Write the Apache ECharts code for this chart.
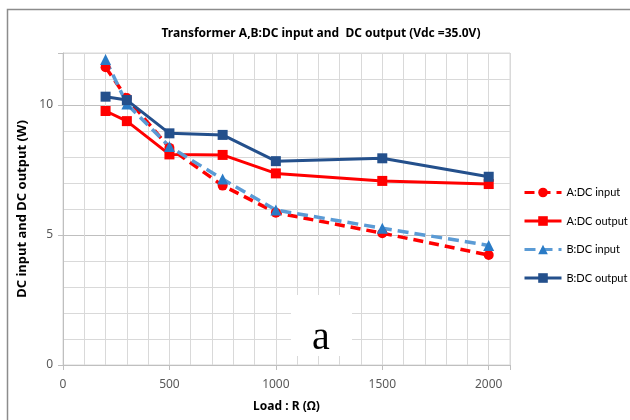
<!DOCTYPE html>
<html>
<head>
<meta charset="utf-8">
<script src="https://cdn.jsdelivr.net/npm/echarts@6/dist/echarts.min.js"></script>
<style>
  html, body { margin: 0; padding: 0; background: #fff; }
  #chart { width: 630px; height: 420px; }
</style>
</head>
<body>
<div id="chart"></div>
<script>
// load resistance (Ω)
const loads = [200, 300, 500, 750, 1000, 1500, 2000]

// power (W)
const aInput = [11.45, 10.27, 8.35, 6.9, 5.86, 5.07, 4.23]
const aOutput = [9.77, 9.38, 8.1, 8.08, 7.37, 7.08, 6.96]
const bInput = [11.75, 10.04, 8.4, 7.15, 5.96, 5.26, 4.6]
const bOutput = [10.32, 10.19, 8.91, 8.85, 7.84, 7.95, 7.24]

const seriesNames = ['A:DC input', 'A:DC output', 'B:DC input', 'B:DC output']

const xTicks = [0, 500, 1000, 1500, 2000]
const yTicks = [0, 5, 10]

const sans = '"Noto Sans", sans-serif'
const legendFont = 'Lato, "Noto Sans", sans-serif'

const pairs = vals => loads.map((x, i) => [x, vals[i]])

const chart = echarts.init(document.getElementById('chart'))

const option = {
  animation: false,
  title: {
    text: 'Transformer A,B:DC input and  DC output (Vdc =35.0V)',
    left: 316,
    textAlign: 'center',
    top: 23,
    textStyle: { fontFamily: sans, fontSize: 12, fontWeight: 'bold', color: '#000' }
  },
  grid: { left: 63, top: 53, width: 447, height: 312, show: true, borderColor: '#d9d9d9', borderWidth: 1 },
  legend: {
    orient: 'vertical',
    left: 518,
    top: 182,
    itemWidth: 37,
    itemHeight: 12,
    itemGap: 17.5,
    data: seriesNames,
    lineStyle: { width: 3 },
    textStyle: { fontFamily: legendFont, fontSize: 11, color: '#000' }
  },
  xAxis: [
    {
      type: 'value', min: 0, max: 2100, interval: 100,
      name: 'Load : R (Ω)', nameLocation: 'middle', nameGap: 36,
      nameTextStyle: { fontFamily: sans, fontSize: 12, fontWeight: 'bold', color: '#000' },
      axisLine: { show: true, lineStyle: { color: '#bfbfbf' } },
      axisTick: { show: false },
      axisLabel: {
        fontFamily: sans, fontSize: 12, color: '#595959', margin: 14,
        formatter: v => (xTicks.includes(v) ? String(v) : '')
      },
      splitLine: { show: true, lineStyle: { color: '#d9d9d9' } }
    },
    {
      // only draws the tick marks at the labelled values
      type: 'value', min: 0, max: 2100, interval: 500, position: 'bottom',
      axisLine: { show: false },
      axisTick: { show: true, length: 5, lineStyle: { color: '#bfbfbf' } },
      axisLabel: { show: false },
      splitLine: { show: false }
    }
  ],
  yAxis: [
    {
      type: 'value', min: 0, max: 12, interval: 1,
      name: 'DC input and DC output (W)', nameLocation: 'middle', nameGap: 32,
      nameTextStyle: { fontFamily: sans, fontSize: 13, fontWeight: 'bold', color: '#000' },
      axisLine: { show: true, lineStyle: { color: '#bfbfbf' } },
      axisTick: { show: false },
      axisLabel: {
        fontFamily: sans, fontSize: 12, color: '#595959', margin: 10,
        formatter: v => (yTicks.includes(v) ? String(v) : '')
      },
      splitLine: {
        show: true,
        lineStyle: { color: ['#bfbfbf', '#d9d9d9', '#d9d9d9', '#d9d9d9', '#d9d9d9'] }
      }
    },
    {
      type: 'value', min: 0, max: 12, interval: 5, position: 'left',
      axisLine: { show: false },
      axisTick: { show: true, length: 5, lineStyle: { color: '#bfbfbf' } },
      axisLabel: { show: false },
      splitLine: { show: false }
    }
  ],
  graphic: [
    {
      type: 'rect', z: 100, silent: true,
      shape: { x: 7.5, y: 9.5, width: 700, height: 500 },
      style: { fill: 'none', stroke: '#8c8c8c', lineWidth: 1.5 }
    },
    {
      type: 'rect', z: 100, silent: true,
      shape: { x: 291, y: 295, width: 61, height: 61 },
      style: { fill: '#fff' }
    },
    {
      type: 'text', z: 101, silent: true,
      x: 321, y: 338,
      style: {
        text: 'a', fill: '#000', align: 'center', verticalAlign: 'middle',
        font: '40px "Liberation Serif", "DejaVu Serif", serif'
      }
    }
  ],
  series: [
    {
      name: seriesNames[0], type: 'line', data: pairs(aInput),
      symbol: 'circle', symbolSize: 10,
      lineStyle: { color: '#ff0000', width: 3.5, type: [10, 6] },
      itemStyle: { color: '#ff0000' }
    },
    {
      name: seriesNames[1], type: 'line', data: pairs(aOutput),
      symbol: 'rect', symbolSize: 10,
      lineStyle: { color: '#ff0000', width: 3 },
      itemStyle: { color: '#ff0000' }
    },
    {
      name: seriesNames[2], type: 'line', data: pairs(bInput),
      symbol: 'triangle', symbolSize: 11,
      lineStyle: { color: '#5b9bd5', width: 3.5, type: [11, 6] },
      itemStyle: { color: '#2a7bc6' }
    },
    {
      name: seriesNames[3], type: 'line', data: pairs(bOutput),
      symbol: 'rect', symbolSize: 10,
      lineStyle: { color: '#24508c', width: 3 },
      itemStyle: { color: '#24508c' }
    }
  ]
}

chart.setOption(option)
</script>
</body>
</html>
